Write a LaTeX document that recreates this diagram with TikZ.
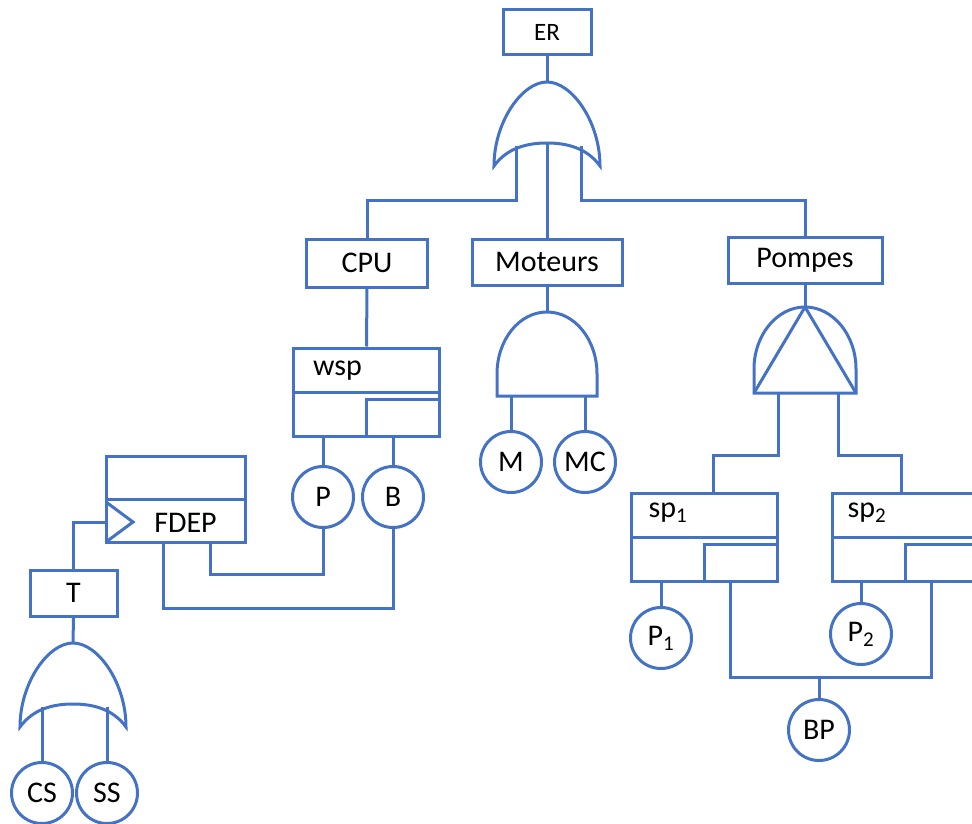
\documentclass[tikz,border=0pt]{standalone}
\usepackage{fontspec}
\setmainfont{Carlito}
\definecolor{ftblue}{RGB}{68,114,196}
\tikzset{
  orgate/.pic={
    \draw[draw=ftblue,line width=3pt] (-53,84) .. controls (-53,40) and (-25,0) .. (0,0) .. controls (25,0) and (53,40) .. (53,84)
      .. controls (40,66) and (20,61) .. (0,61) .. controls (-20,61) and (-40,66) .. (-53,84) -- cycle;
    \coordinate (-top) at (0,0);
    \coordinate (-l) at (-31,64);
    \coordinate (-m) at (0,61);
    \coordinate (-r) at (34,64);
  },
  andgate/.pic={
    \draw[draw=ftblue,line width=3pt] (-50,84) -- (-50,62) .. controls (-50,28) and (-28,0) .. (0,0) .. controls (28,0) and (50,28) .. (50,62) -- (50,84) -- cycle;
    \coordinate (-top) at (0,0);
    \coordinate (-l) at (-36,84);
    \coordinate (-r) at (38,84);
  },
  pandgate/.pic={
    \draw[draw=ftblue,line width=3pt] (-51,86) -- (-51,62) .. controls (-51,28) and (-28,0) .. (0,0) .. controls (28,0) and (51,28) .. (51,62) -- (51,86) -- cycle;
    \draw[draw=ftblue,line width=3pt] (-51,86) -- (0,0) -- (51,86);
    \coordinate (-top) at (0,0);
    \coordinate (-l) at (-27,86);
    \coordinate (-r) at (33,86);
  }
}

\begin{document}
\begin{tikzpicture}[
    x=1pt, y=-1pt,
    conn/.style={draw=ftblue,line width=3pt},
    box/.style={draw=ftblue,line width=3pt,fill=white,inner sep=0pt,font=\fontsize{30}{32}\selectfont},
    txt/.style={inner sep=0pt,font=\fontsize{30}{32}\selectfont},
    event/.style={circle,draw=ftblue,line width=3pt,fill=white,minimum size=61pt,inner sep=0pt,font=\fontsize{30}{32}\selectfont},
    spare/.style={box,minimum width=146pt,minimum height=88pt,
      path picture={
        \draw[ftblue,line width=3pt] ([yshift=-44pt]path picture bounding box.north west) -- ([yshift=-44pt]path picture bounding box.north east);
        \draw[ftblue,line width=3pt] (path picture bounding box.south) |- ([yshift=-51pt]path picture bounding box.north east);
      }},
    fdep/.style={box,minimum width=139pt,minimum height=86pt,
      path picture={
        \draw[ftblue,line width=3pt] ([yshift=-43pt]path picture bounding box.north west) -- ([yshift=-43pt]path picture bounding box.north east);
        \draw[ftblue,line width=3pt] ([yshift=-46pt]path picture bounding box.north west) -- ([xshift=27pt,yshift=-66pt]path picture bounding box.north west) -- (path picture bounding box.south west);
      }}
  ]
    \path[use as bounding box,fill=white] (0,0) rectangle (972,824);
    \clip (0,0) rectangle (972,824);

    \node[box,minimum width=88pt,minimum height=45pt,font=\fontsize{25}{27}\selectfont] (ER) at (547,32.5) {ER};
    \pic (gER) at (547,82) {orgate};
    \node[box,minimum width=121pt,minimum height=48pt] (CPU) at (367,263) {CPU};
    \node[box,minimum width=150pt,minimum height=46pt] (Moteurs) at (547,262) {Moteurs};
    \node[box,minimum width=154pt,minimum height=46pt] (Pompes) at (805,260) {Pompes};

    \node[spare] (wsp) at (366.5,392) {};
    \node[txt,anchor=west] (wsptext) at ([xshift=21pt,yshift=-24pt]wsp.north west) {wsp};
    \node[event] (P) at (323,497) {P};
    \node[event] (B) at (393,497) {B};

    \node[fdep] (FDEP) at (175.5,499) {};
    \node[txt] (FDEPtext) at ([xshift=10pt,yshift=-24pt]FDEP.center) {FDEP};
    \node[box,minimum width=87pt,minimum height=46pt] (T) at (73.5,593) {T};
    \pic (gT) at (73,643) {orgate};
    \node[event] (CS) at (42,793) {CS};
    \node[event] (SS) at (107,793) {SS};

    \pic (gM) at (547,312) {andgate};
    \node[event] (M) at (511,462) {M};
    \node[event] (MC) at (585,462) {MC};

    \pic (gP) at (805,307) {pandgate};
    \node[spare] (sp1) at (704,537.5) {};
    \node[txt,anchor=west] (sp1text) at ([xshift=19pt,yshift=-21pt]sp1.north west) {sp\textsubscript{1}};
    \node[spare] (sp2) at (905,537.5) {};
    \node[txt,anchor=west] (sp2text) at ([xshift=17pt,yshift=-21pt]sp2.north west) {sp\textsubscript{2}};
    \node[event] (P1) at (661,638) {P\textsubscript{1}};
    \node[event] (P2) at (861,634) {P\textsubscript{2}};
    \node[event] (BP) at (819,730) {BP};
    \coordinate (bus) at (819,677);

    \draw[conn] (ER.south) -- (gER-top);
    \draw[conn] (gER-l) -- ++(0,54) -| (CPU.north);
    \draw[conn] (gER-m) -- (Moteurs.north);
    \draw[conn] (gER-r) -- ++(0,54) -| (Pompes.north);
    \draw[conn] (CPU.south) -- (wsp.north);
    \draw[conn] (P.north) -- (P.north |- wsp.south);
    \draw[conn] (B.north) -- (B.north |- wsp.south);
    \draw[conn] ([xshift=35pt]FDEP.south) -- ++(0,31) -| (P.south);
    \draw[conn] ([xshift=-12pt]FDEP.south) -- ++(0,65) -| (B.south);
    \draw[conn] (T.north) |- ([yshift=-23pt]FDEP.west);
    \draw[conn] (T.south) -- (gT-top);
    \draw[conn] (gT-l) -- (CS.north);
    \draw[conn] (gT-r) -- (SS.north);
    \draw[conn] (Moteurs.south) -- (gM-top);
    \draw[conn] (gM-l) -- (M.north);
    \draw[conn] (gM-r) -- (MC.north);
    \draw[conn] (Pompes.south) -- (gP-top);
    \draw[conn] (gP-l) -- ++(0,62) -| ([xshift=9pt]sp1.north);
    \draw[conn] (gP-r) -- ++(0,62) -| ([xshift=-4pt]sp2.north);
    \draw[conn] (P1.north) -- (P1.north |- sp1.south);
    \draw[conn] (P2.north) -- (P2.north |- sp2.south);
    \draw[conn] ([xshift=26pt]sp1.south) |- (bus) -| ([xshift=26pt]sp2.south);
    \draw[conn] (bus) -- (BP.north);
\end{tikzpicture}
\end{document}
